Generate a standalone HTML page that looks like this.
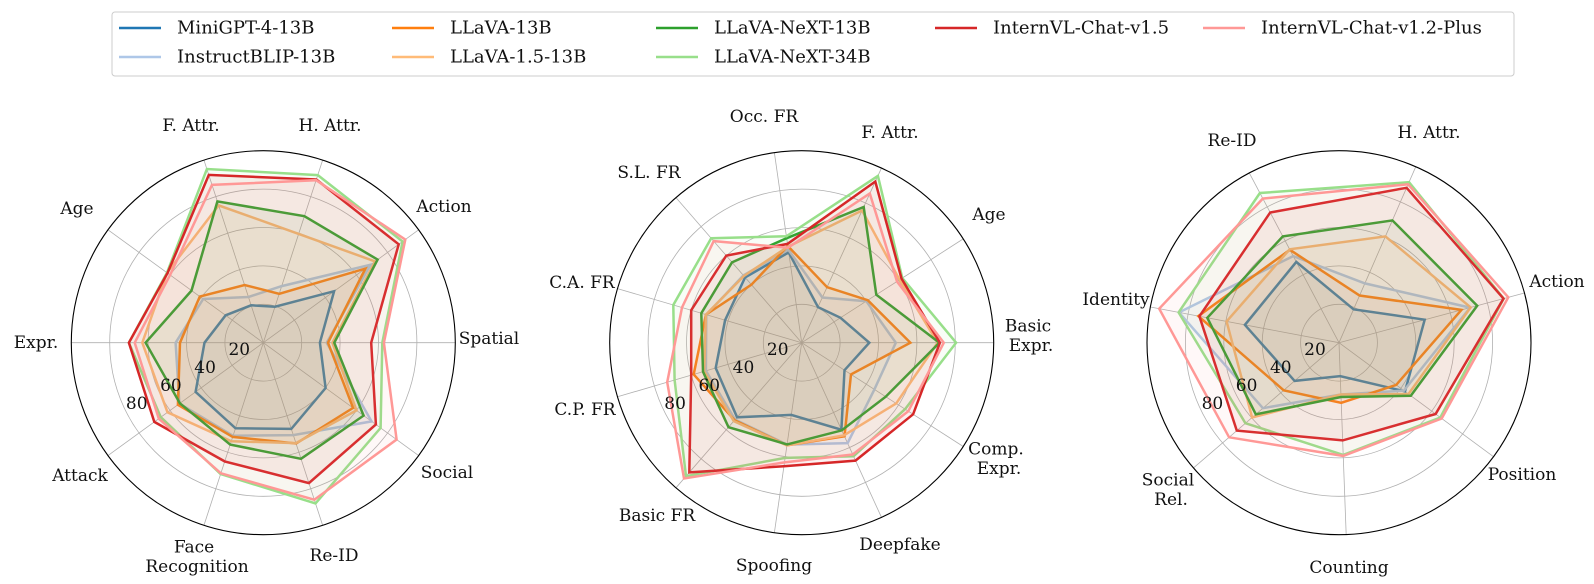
<!DOCTYPE html>
<html><head><meta charset="utf-8">
<style>
html,body{margin:0;padding:0;background:#fff;}
svg{display:block;font-family:"DejaVu Serif","Liberation Serif",serif;}
</style></head>
<body>
<svg id="fig" width="1594" height="584" viewBox="0 0 1594 584" xmlns="http://www.w3.org/2000/svg">
  <g id="legend">
    <rect x="112" y="12" width="1402" height="64" rx="3" fill="#fff" stroke="#cccccc" stroke-width="1"/>
  </g>
  <g id="charts"></g>
</svg>
<script>
// ---- data ----
const models = ["MiniGPT-4-13B","InstructBLIP-13B","LLaVA-13B","LLaVA-1.5-13B","LLaVA-NeXT-13B","LLaVA-NeXT-34B","InternVL-Chat-v1.5","InternVL-Chat-v1.2-Plus"];
const colors = ["#1f77b4","#aec7e8","#ff7f0e","#ffbb78","#2ca02c","#98df8a","#d62728","#ff9896"];
const rTicks = [20,40,60,80];

const cats1 = ["Spatial","Action","H. Attr.","F. Attr.","Age","Expr.","Attack","Face\nRecognition","Re-ID","Social"];
const vals1 = [
  [29.5,45.6,19.7,20.5,24.3,30.6,43.6,46.9,47.2,40.1],
  [33,69,31,25,38.7,45.7,54,51,50.6,69.7],
  [33.7,65.7,26.8,31.6,40.9,43.4,55,51.6,55.2,57.8],
  [36,72,59.6,75.2,62,63,61.7,54,55,60],
  [37,73.6,69.3,77.4,46.2,61.3,53.7,55.8,63.6,64.6],
  [62,89.7,91.8,95.1,62,70,66,71.9,88,75.5],
  [56.2,87.2,89.4,91.9,61.7,70,70.2,65,76.9,72.5],
  [62.8,91.4,89,86.4,60,67,67.3,71.5,86,85.8]
];
const cats2 = ["Basic\nExpr.","Age","F. Attr.","Occ. FR","S.L. FR","C.A. FR","C.P. FR","Basic FR","Spoofing","Deepfake","Comp.\nExpr."];
const vals2 = [
  [35.2,24,20.4,47.5,45,41.6,46.7,51.4,38,49.8,26.5],
  [49,40,25.9,49,46.4,51.8,52,53,53.6,57.5,45],
  [56.6,40.9,31.8,50.9,40,52,58.6,53.4,54,53.6,30.5],
  [70.8,60.6,75.7,50.5,46,52,53,54,54,53,58.5],
  [71.7,46.2,77.7,55,55.4,54.5,53.6,58.2,53.5,50.2,52],
  [80.4,62.3,95.5,56,72,69.7,69,92,60.6,65,64],
  [72,61.8,92.3,52,60,60,60,89.4,65,67.5,69],
  [74,59,85.4,50,70,65,73,93.6,63,64,66]
];
const cats3 = ["Action","H. Attr.","Re-ID","Identity","Social\nRel.","Counting","Position"];
const vals3 = [
  [46.2,19,47.6,49.9,30.5,17.4,42.7],
  [70.7,33.7,51,84.8,52.3,27,42],
  [66,26.8,54.7,74.6,38,31.3,37],
  [71,60.4,55,59.6,59.7,27,45],
  [74.5,69.5,62.6,69.8,57.2,28.3,46.5],
  [88.8,91.2,88.2,85,64.3,58.5,65.6],
  [88.7,88,76.7,74,70.2,50.9,62.5],
  [91.3,90,84.9,95.3,75.5,59,66.5]
];

// ---- layout ----
const NS = "http://www.w3.org/2000/svg";
const R = 192, RMAX = 100;
const chartsDef = [
  {cats: cats1, vals: vals1, cx: 263.3, cy: 342.7, off: 0, name: "radar-chart-1",
   labels: [[489,339],[444,207],[330,126],[191,126],[77,209],[36,343],[80,476],[194,557],[334,556],[447,473]]},
  {cats: cats2, vals: vals2, cx: 801.7, cy: 342.7, off: 0, name: "radar-chart-2",
   labels: [[1028,336],[989,215],[890,133],[764,117],[649,173],[582,283],[585,410],[657,516],[774,566],[900,545],[996,459]]},
  {cats: cats3, vals: vals3, cx: 1339, cy: 342.7, off: 15, name: "radar-chart-3",
   labels: [[1557,282],[1429,133],[1232,141],[1116,300],[1168,490],[1349,568],[1522,475]]}
];
const rScale = v => v / RMAX * R;
function el(tag, attrs, parent){ const e=document.createElementNS(NS,tag); for(const k in attrs) e.setAttribute(k,attrs[k]); parent.appendChild(e); return e; }

const root = document.getElementById('charts');
chartsDef.forEach((c, ci) => {
  const g = el('g', {}, root);
  
  
  const n = c.cats.length;
  const ang = i => (c.off + i * 360 / n) * Math.PI / 180;
  const pt = (i, v) => [c.cx + rScale(v) * Math.cos(ang(i)), c.cy - rScale(v) * Math.sin(ang(i))];
  rTicks.forEach(t => {
    const ring = el('circle', {cx:c.cx, cy:c.cy, r:rScale(t), fill:'none', stroke:'#b0b0b0', 'stroke-width':0.8}, g);
    
    
  });
  for (let i = 0; i < n; i++) {
    const p = pt(i, RMAX);
    const sp = el('line', {x1:c.cx, y1:c.cy, x2:p[0], y2:p[1], stroke:'#b0b0b0', 'stroke-width':0.8}, g);
    
    
  }
  c.vals.forEach((vals, mi) => {
    const pts = vals.map((v, i) => pt(i, v).map(x => x.toFixed(1)).join(',')).join(' ');
    const poly = el('polygon', {points: pts, fill: colors[mi], 'fill-opacity': 0.07, stroke: colors[mi], 'stroke-width': 2.5, 'stroke-linejoin':'miter'}, g);
    
    
  });
  const oc = el('circle', {cx:c.cx, cy:c.cy, r:R, fill:'none', stroke:'#000', 'stroke-width':1.1}, g);
  
  
  rTicks.forEach(t => {
    const k = t / 20;
    const tx = el('text', {x: c.cx - 34.2*k + 10.2, y: c.cy + 18*k - 10.7, 'font-size':17, 'text-anchor':'middle', 'dominant-baseline':'central', fill:'#111'}, g);
    tx.textContent = String(t);
    
    
  });
  c.cats.forEach((name, i) => {
    const [lx, ly] = c.labels[i];
    const lines = name.split('\n');
    const t = el('text', {x: lx, y: ly - (lines.length-1)*9.7, 'font-size':17, 'text-anchor':'middle', 'dominant-baseline':'central', fill:'#111'}, g);
    
    
    lines.forEach((ln, j) => {
      const ts = el('tspan', {x: lx + (j>0 && lines.length>1 ? 3 : 0), dy: j===0 ? 0 : 19.5}, t);
      ts.textContent = ln;
    });
  });
});

// legend
const leg = document.getElementById('legend');
const colX = [119, 392, 656, 935, 1203];
const rowY = [28, 57];
const order = [[0,0],[1,0],[2,1],[3,1],[4,2],[5,2],[6,3],[7,4]];
const rowOf = [0,1,0,1,0,1,0,0];
models.forEach((m, i) => {
  const col = order[i][1], row = rowOf[i];
  const x = colX[col], y = rowY[row];
  const ge = el('g', {}, leg);
  
  
  el('line', {x1:x, y1:y, x2:x+42, y2:y, stroke:colors[i], 'stroke-width':2.5}, ge);
  const t = el('text', {x:x+58, y:y, 'font-size':18, 'dominant-baseline':'central', fill:'#111'}, ge);
  t.textContent = m;
});
</script>
</body></html>
